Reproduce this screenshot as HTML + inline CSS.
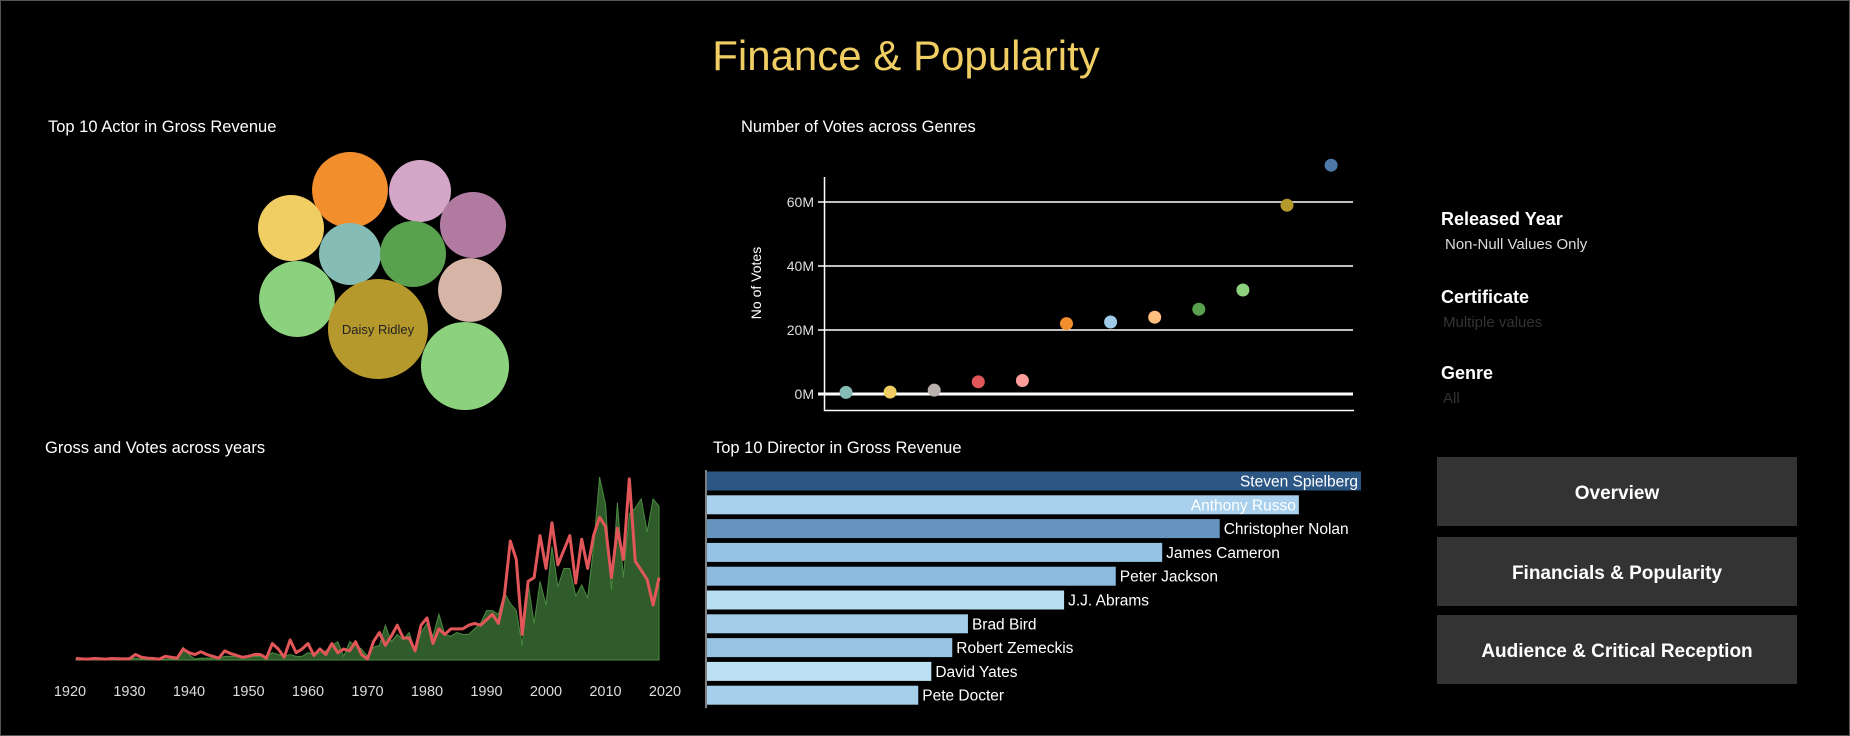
<!DOCTYPE html>
<html><head><meta charset="utf-8"><style>
body{margin:0;background:#000;}
svg{display:block;font-family:"Liberation Sans",sans-serif;}
</style></head><body>
<svg id="root" width="1850" height="736" viewBox="0 0 1850 736">
<rect x="0.5" y="0.5" width="1849" height="735" fill="#000" stroke="#555"/>
<text x="906" y="70" text-anchor="middle" font-size="42" fill="#f1ce63">Finance &amp; Popularity</text>

<text x="48" y="132" font-size="16.5" fill="#fff">Top 10 Actor in Gross Revenue</text>
<g id="bubbles"></g>

<text x="741" y="132" font-size="16.5" fill="#fff">Number of Votes across Genres</text>
<g id="scatter"></g>

<text x="45" y="453" font-size="16.5" fill="#fff">Gross and Votes across years</text>
<g id="area"></g>

<text x="713" y="453" font-size="16.5" fill="#fff">Top 10 Director in Gross Revenue</text>
<g id="bars"></g>

<g>
<text x="1441" y="225" font-size="18" font-weight="bold" fill="#fff">Released Year</text>
<text x="1445" y="249" font-size="15" fill="#ddd">Non-Null Values Only</text>
<text x="1441" y="303" font-size="18" font-weight="bold" fill="#fff">Certificate</text>
<text x="1443" y="327" font-size="15" fill="#333">Multiple values</text>
<text x="1441" y="379" font-size="18" font-weight="bold" fill="#fff">Genre</text>
<text x="1443" y="403" font-size="15" fill="#333">All</text>
</g>
<g>
<rect x="1437" y="457" width="360" height="69" fill="#333"/>
<text x="1617" y="499" text-anchor="middle" font-size="19" font-weight="bold" fill="#fff">Overview</text></g>
<g>
<rect x="1437" y="537" width="360" height="69" fill="#333"/>
<text x="1617" y="579" text-anchor="middle" font-size="19" font-weight="bold" fill="#fff">Financials &amp; Popularity</text></g>
<g>
<rect x="1437" y="615" width="360" height="69" fill="#333"/>
<text x="1617" y="657" text-anchor="middle" font-size="19" font-weight="bold" fill="#fff">Audience &amp; Critical Reception</text></g>
</svg>
<script>
const NS="http://www.w3.org/2000/svg";
function mk(parent,tag,attrs,txt){const e=document.createElementNS(NS,tag);for(const k in attrs)e.setAttribute(k,attrs[k]);if(txt!==undefined)e.textContent=txt;parent.appendChild(e);return e;}

// ---- Actor bubbles ----
const actorNames=["A1","A2","A3","A4","A5","A6","A7","A8","Daisy Ridley","A10"];
const actorGross=[1.44,0.96,1.09,1.09,0.96,1.09,1.44,1.02,2.5,1.94];
const actorColors=["#f28e2b","#d4a6c8","#f1ce63","#b07aa1","#86bcb6","#59a14f","#8cd17d","#d7b5a6","#b6992d","#8cd17d"];
const bubbleX=[350,420,291,473,350,413,297,470,378,465];
const bubbleY=[190,191,228,225,254,254,299,290,329,366];
const bubbles=document.getElementById('bubbles');
actorGross.forEach((v,i)=>{
  const r=50*Math.sqrt(v/2.5);
  const c=mk(bubbles,'circle',{cx:bubbleX[i],cy:bubbleY[i],r:r,fill:actorColors[i]});
  
  
});
const dl=mk(bubbles,'text',{x:378,y:334,'text-anchor':'middle','font-size':13,fill:'#222'},"Daisy Ridley");



// ---- Scatter ----
const genreVotes=[0.5,0.6,1.2,3.8,4.2,22,22.5,24,26.5,32.5,59,71.5];
const genreColors=["#86bcb6","#f1ce63","#bab0ac","#e15759","#ff9d9a","#f28e2b","#a0cbe8","#ffbe7d","#59a14f","#8cd17d","#b6992d","#4e79a7"];
const voteTicks=[0,20,40,60];
const sc=document.getElementById('scatter');
const sy=v=>394-v*(192/60), sx=i=>846+i*44.1;
voteTicks.forEach(t=>{
  const g=mk(sc,'line',{x1:818,x2:1353,y1:sy(t),y2:sy(t),stroke:'#fff','stroke-width':t===0?3:1.5});
  
  
  const l=mk(sc,'text',{x:814,y:sy(t)+5,'text-anchor':'end','font-size':14,fill:'#ddd'},t+"M");
  
  
});
const ax=mk(sc,'path',{d:'M824.5 177V410.5H1354',fill:'none',stroke:'#fff','stroke-width':1.5});


const yt=mk(sc,'text',{x:0,y:0,transform:'translate(761,283) rotate(-90)','text-anchor':'middle','font-size':14,fill:'#fff'},"No of Votes");


genreVotes.forEach((v,i)=>{
  const c=mk(sc,'circle',{cx:sx(i),cy:sy(v),r:6.5,fill:genreColors[i]});
  
  
});

// ---- Gross & votes line/area ----
const years=[];for(let y=1921;y<=2019;y++)years.push(y);
const grossSeries=[0.5,0.5,0.5,0.5,0.5,0.5,0.5,0.5,0.5,0.5,1,0.5,0.5,0.5,0.5,0.5,0.5,0.5,7,3,0.5,1,1,1,1,2,2,2,1.5,2,2,2,2,4,3,2,3,2,2,4,3,4,5,8,10,2,10,8,6,2,7,8,19,10,14,11,15,5,15,20,13,25,14,13,15,14,14,17,20,27,27,25,37,31,27,8,42,20,43,30,62,40,50,50,35,41,34,62,100,85,38,86,45,80,83,88,70,88,84];
const voteSeries=[0.8,0.6,0.5,0.8,0.7,0.5,0.8,0.7,0.6,0.7,3,1.5,1,0.8,0.5,2,1.5,1,6,4,3,4.5,3,2,1,5,3.5,2.5,1.5,2,3,3,1,9,6,1.5,11,4,6,9,2.5,6,3,9,4,6,5,10,3,0.5,10,15,8,13,19,12,12,5,19,23,9,17,14,17,17,17,19,20,19,22,25,20,35,65,55,14,43,45,68,50,75,52,60,68,42,66,50,68,78,73,45,72,55,99,54,49,44,30,45];
const yearTicks=[1920,1930,1940,1950,1960,1970,1980,1990,2000,2010,2020];
const ar=document.getElementById('area');
const lx=y=>70+(y-1920)*5.95, ly=v=>660-v*1.83;
let d='M'+lx(years[0])+' 660';
years.forEach((y,i)=>{d+=' L'+lx(y)+' '+ly(grossSeries[i]);});
d+=' L'+lx(years[years.length-1])+' 660Z';
const area=mk(ar,'path',{d:d,fill:'#2f5c2a',stroke:'#4a8a40','stroke-width':1});


let d2='';years.forEach((y,i)=>{d2+=(i?' L':'M')+lx(y)+' '+ly(voteSeries[i]);});
const line=mk(ar,'path',{d:d2,fill:'none',stroke:'#e15759','stroke-width':3,'stroke-linejoin':'round'});


yearTicks.forEach(t=>{
  const l=mk(ar,'text',{x:lx(t),y:696,'text-anchor':'middle','font-size':14.5,fill:'#ddd'},String(t));
  
  
});

// ---- Director bars ----
const directors=["Steven Spielberg","Anthony Russo","Christopher Nolan","James Cameron","Peter Jackson","J.J. Abrams","Brad Bird","Robert Zemeckis","David Yates","Pete Docter"];
const directorGross=[10.0,9.05,7.84,6.96,6.25,5.46,3.99,3.75,3.43,3.23];
const barColors=["#2c5784","#a9d1ed","#6594be","#94c3e4","#8dbadf","#b8def2","#a3cde9","#98c4e3","#bde0f3","#a5cfea"];
const bg=document.getElementById('bars');
const bx=v=>v*65.4, byc=i=>481+i*23.8;
const bax=mk(bg,'line',{x1:706,x2:706,y1:470,y2:708,stroke:'#fff','stroke-width':1});


directorGross.forEach((v,i)=>{
  const r=mk(bg,'rect',{x:707,y:byc(i)-9.5,width:bx(v),height:19,fill:barColors[i]});
  
  
  const inside=i<2;
  const t=mk(bg,'text',{x:inside?707+bx(v)-3:707+bx(v)+4,y:byc(i)+5.5,'text-anchor':inside?'end':'start','font-size':15.5,fill:'#fff'},directors[i]);
  
  
});
</script>
</body></html>
